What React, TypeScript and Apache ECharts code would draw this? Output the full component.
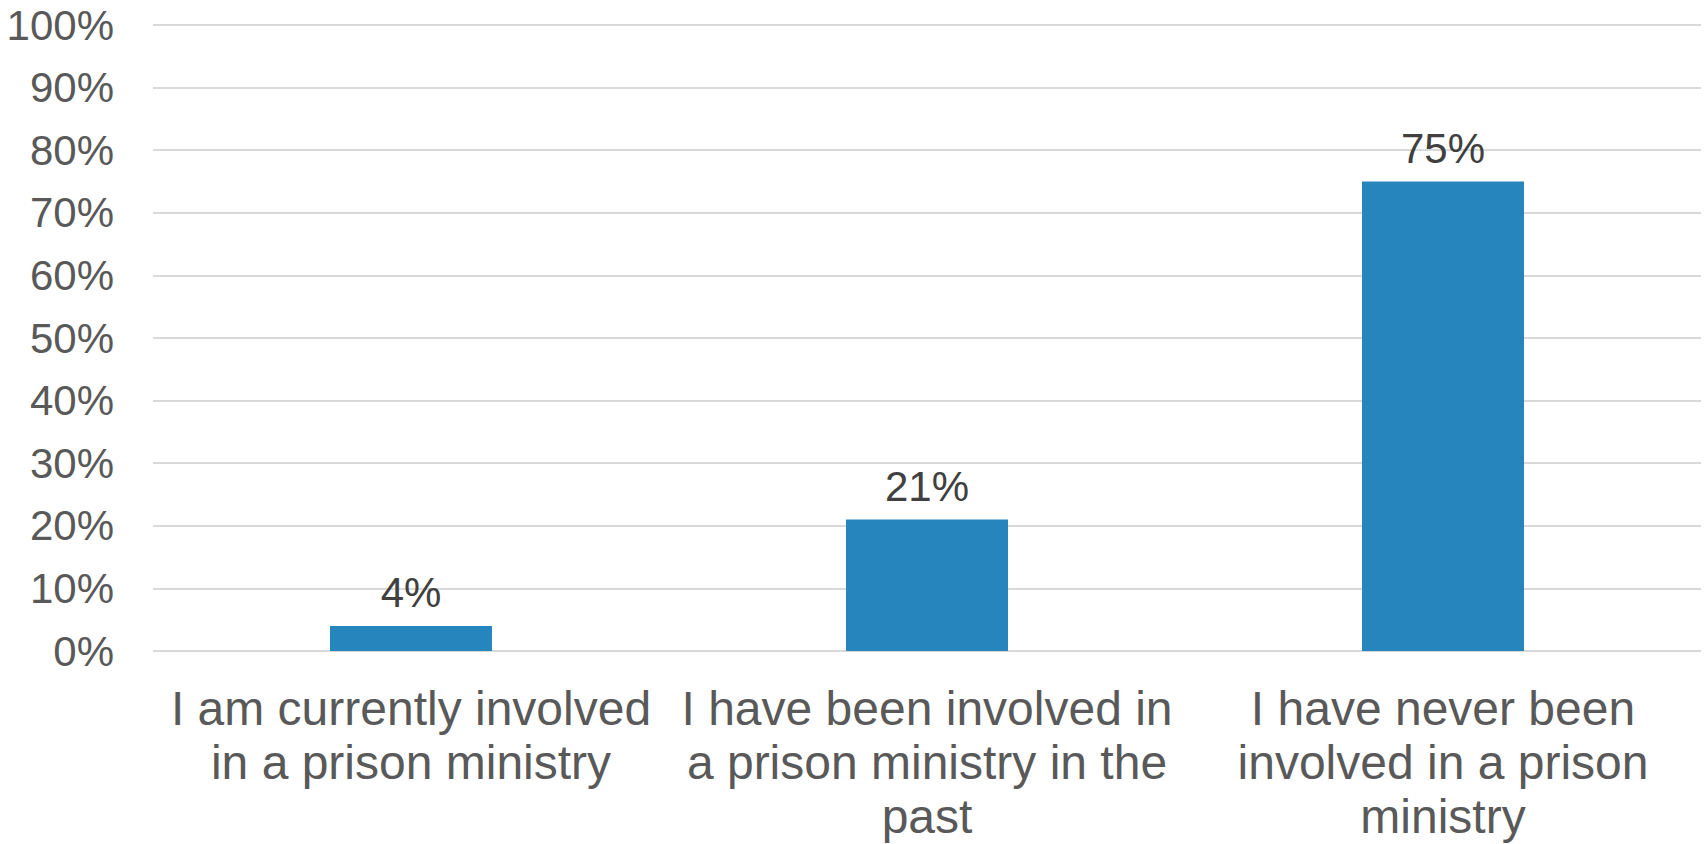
import React, { useEffect, useRef } from "react";
import * as echarts from "echarts";

const categories = [
  "I am currently involved\nin a prison ministry",
  "I have been involved in\na prison ministry in the\npast",
  "I have never been\ninvolved in a prison\nministry",
];
const values = [4, 21, 75];
const yTicks = { min: 0, max: 100, interval: 10 };

export default function App() {
  const ref = useRef<HTMLDivElement>(null);
  useEffect(() => {
    if (!ref.current) return;
    const chart = echarts.init(ref.current, undefined, { renderer: "svg" });
    chart.setOption({
      animation: false,
      grid: { left: 153, right: 3, top: 25, bottom: 193, containLabel: false, outerBoundsMode: "none" },
      xAxis: {
        type: "category",
        data: categories,
        axisLine: { show: false },
        axisTick: { show: false },
        axisLabel: {
          interval: 0,
          margin: 30,
          color: "#595959",
          fontFamily: "Liberation Sans, Arial, sans-serif",
          fontSize: 48,
          lineHeight: 54,
          align: "center",
        },
      },
      yAxis: {
        type: "value",
        min: yTicks.min,
        max: yTicks.max,
        interval: yTicks.interval,
        axisLine: { show: false },
        axisTick: { show: false },
        axisLabel: {
          margin: 39,
          color: "#595959",
          fontFamily: "Liberation Sans, Arial, sans-serif",
          fontSize: 42,
          formatter: (v: number) => `${v}%`,
        },
        splitLine: { lineStyle: { color: "#d9d9d9", width: 2 } },
      },
      series: [
        {
          type: "bar",
          data: values,
          barWidth: 162,
          itemStyle: { color: "#2685bd" },
          label: {
            show: true,
            position: "top",
            distance: 12,
            color: "#404040",
            fontFamily: "Liberation Sans, Arial, sans-serif",
            fontSize: 42,
            formatter: (p: any) => `${p.value}%`,
          },
        },
      ],
    });
    return () => chart.dispose();
  }, []);
  return <div ref={ref} style={{ width: 1704, height: 844, position: "absolute", left: 0, top: 0 }} />;
}
